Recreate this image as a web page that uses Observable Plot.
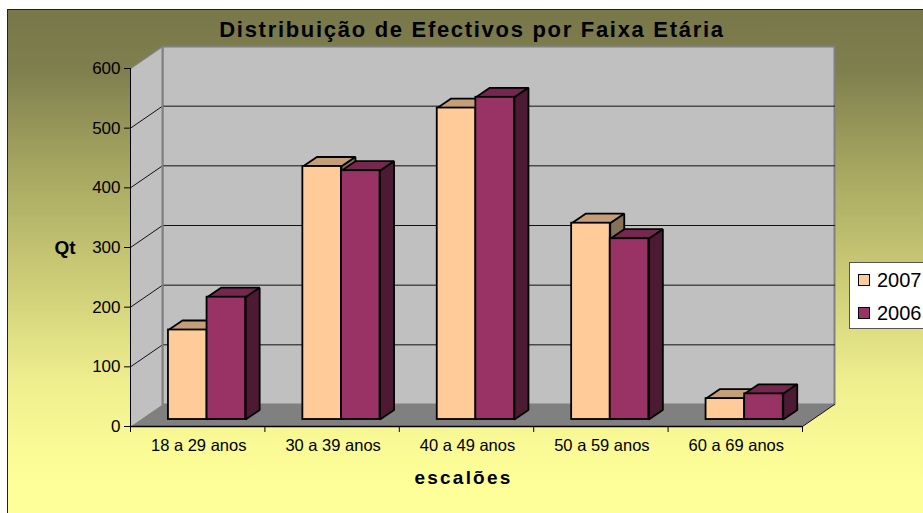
<!DOCTYPE html>
<html><head><meta charset="utf-8">
<script src="https://cdn.jsdelivr.net/npm/d3@7"></script>
<script src="https://cdn.jsdelivr.net/npm/@observablehq/plot@0.6"></script>
<style>
html,body{margin:0;padding:0;background:#fff;overflow:hidden}
#page{position:relative;width:923px;height:513px;overflow:hidden;font-family:"Liberation Sans",Arial,sans-serif}
#bg{position:absolute;left:7px;top:9px;width:930px;height:520px;box-sizing:border-box;border:1px solid #222;
 background:linear-gradient(180deg,#77774a 0px,#7f7f4e 60px,#a3a35f 150px,#c9c975 260px,#eeee8e 370px,#ffff99 470px)}
#chart{position:absolute;left:0;top:0}
#chart svg{background:transparent;display:block}
#title{position:absolute;left:172px;width:600px;top:18px;text-align:center;font-weight:bold;font-size:22px;line-height:24px;letter-spacing:1.7px;color:#000;white-space:nowrap}
#legend{position:absolute;left:849px;top:262px;width:90px;height:67px;box-sizing:border-box;background:#fff;border:1px solid #555}
.li{position:absolute;left:0;font-size:20px;line-height:20px;color:#000}
.li i{position:absolute;left:8px;top:3px;width:10px;height:10px;border:1.5px solid #000;box-sizing:content-box}
.li span{position:absolute;left:27px;top:-1px}
</style></head>
<body><div id="page"><div id="bg"></div><div id="chart"></div>
<div id="title">Distribuição de Efectivos por Faixa Etária</div><div id="legend"></div></div>
<script>
const categories = ["18 a 29 anos","30 a 39 anos","40 a 49 anos","50 a 59 anos","60 a 69 anos"];
const seriesNames = ["2007","2006"];
const values2007 = [150,424,522,329,35];
const values2006 = [205,417,540,303,43];
const yTicks = [0,100,200,300,400,500,600];

const faces = {
  "2007": {front:"#ffcc99", top:"#c49e76", side:"#86705a"},
  "2006": {front:"#993366", top:"#762750", side:"#4c1a33"}
};
// oblique projection, in data units
const wallX = 32/134.4, wallY = 22/0.5967;     // depth of the chart box
const liftX = 10/134.4, liftY = 7/0.5967;      // bars stand mid-floor
const depX = 14/134.4, depY = 9.5/0.5967;      // depth of one bar
const barW = 38.6/134.4, barStart = 0.208;     // width and left inset

const poly = (pts, fill, stroke, sw=1) => Plot.line(pts, {x:"x", y:"y", fill, stroke, strokeWidth:sw, curve:"linear-closed", strokeLinejoin:"miter"});
const P = (x,y) => ({x,y});

const marks = [];
// back wall, side wall, floor
marks.push(poly([P(wallX,wallY),P(5+wallX,wallY),P(5+wallX,600+wallY),P(wallX,600+wallY)],"#c0c0c0","#808080",2));
marks.push(poly([P(0,0),P(wallX,wallY),P(wallX,600+wallY),P(0,600)],"#c0c0c0","none"));
marks.push(poly([P(0,0),P(5,0),P(5+wallX,wallY),P(wallX,wallY)],"#808080","none"));
// gridlines
for (const t of yTicks.slice(1,-1)) {
  marks.push(Plot.line([P(0,t),P(wallX,t+wallY),P(5+wallX,t+wallY)],{x:"x",y:"y",stroke:"#111",strokeWidth:1}));
}
marks.push(Plot.line([P(0,600),P(wallX,600+wallY)],{x:"x",y:"y",stroke:"#808080",strokeWidth:1.5}));
marks.push(Plot.line([P(5,0),P(5+wallX,wallY)],{x:"x",y:"y",stroke:"#111",strokeWidth:1}));
marks.push(Plot.line([P(wallX,wallY),P(wallX,600+wallY)],{x:"x",y:"y",stroke:"#808080",strokeWidth:2}));
// axes
marks.push(Plot.ruleX([0],{y1:0,y2:600,stroke:"#000"}));
marks.push(Plot.ruleY([0],{x1:0,x2:5,stroke:"#000",strokeWidth:1.5}));
marks.push(Plot.axisY({ticks:yTicks,tickSize:6,tickPadding:4,fontSize:17,label:null,fill:"#000",stroke:"#000",tickFormat:d=>d}));
marks.push(Plot.axisX({ticks:[0,1,2,3,4,5],tickSize:6,tickFormat:()=>"",label:null,stroke:"#000"}));
marks.push(Plot.axisX({ticks:[.5,1.5,2.5,3.5,4.5],tickSize:0,tickPadding:13,fontSize:16.5,label:null,fill:"#000",dx:1,tickFormat:d=>categories[d-.5]}));
// bars
categories.forEach((c,i)=>{
  [values2007[i],values2006[i]].forEach((v,s)=>{
    const f = faces[seriesNames[s]];
    const x0 = i+barStart+liftX+s*barW, x1 = x0+barW, y0 = liftY, y1 = v+liftY;
    const opt = {stroke:"#000", sw:1.8};
    marks.push(poly([P(x0,y1),P(x1,y1),P(x1+depX,y1+depY),P(x0+depX,y1+depY)],f.top,opt.stroke,opt.sw));
    marks.push(poly([P(x1,y0),P(x1+depX,y0+depY),P(x1+depX,y1+depY),P(x1,y1)],f.side,opt.stroke,opt.sw));
    marks.push(Plot.rect([{c,v}],{x1:()=>x0,x2:()=>x1,y1:()=>y0,y2:()=>y1,fill:f.front,stroke:opt.stroke,strokeWidth:opt.sw}));
  });
});
// axis titles
marks.push(Plot.text(["Qt"],{frameAnchor:"left",dx:-76,text:d=>d,fontWeight:"bold",fontSize:19,fill:"#000",textAnchor:"start"}));
marks.push(Plot.text(["escalões"],{frameAnchor:"bottom",dx:-3,dy:51,text:d=>d,fontWeight:"bold",fontSize:19,fill:"#000",lineAnchor:"middle",dy:51}));

const chart = Plot.plot({
  width:923, height:513,
  marginLeft:130, marginRight:121, marginTop:68, marginBottom:87,
  style:{background:"transparent",fontFamily:"'Liberation Sans',Arial,sans-serif",color:"#000",overflow:"visible"},
  x:{type:"linear",domain:[0,5]},
  y:{type:"linear",domain:[0,600]},
  marks
});
chart.querySelectorAll("text").forEach(t=>{ if(t.textContent==="escalões") t.style.letterSpacing="2.2px"; });
document.getElementById("chart").append(chart);

const lg = document.getElementById("legend");
seriesNames.forEach((n,i)=>{
  const d = document.createElement("div");
  d.className="li"; d.style.top=(8+i*33)+"px"; 
  d.innerHTML=`<i style="background:${faces[n].front}"></i><span>${n}</span>`;
  lg.append(d);
});
</script></body></html>
